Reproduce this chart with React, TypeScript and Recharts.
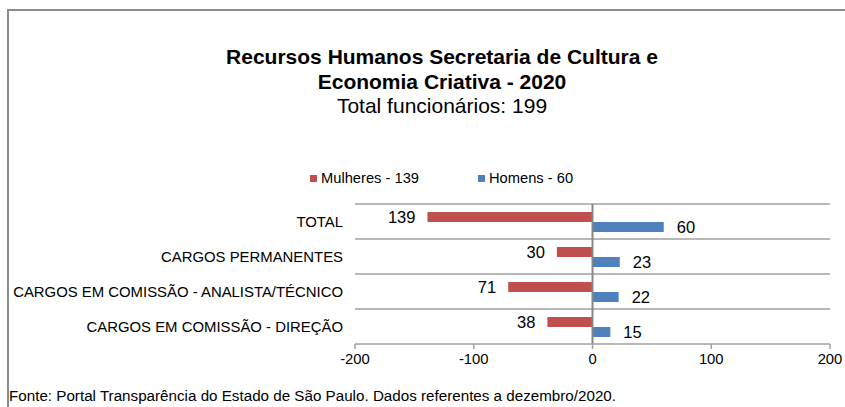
import { Bar, BarChart, CartesianGrid, LabelList, Legend, ReferenceLine, XAxis, YAxis } from "recharts"

const categories = [
  "TOTAL",
  "CARGOS PERMANENTES",
  "CARGOS EM COMISSÃO - ANALISTA/TÉCNICO",
  "CARGOS EM COMISSÃO - DIREÇÃO",
]
const mulheres = [139, 30, 71, 38]
const homens = [60, 23, 22, 15]
const xTicks = [-200, -100, 0, 100, 200]
const seriesNames = ["Mulheres - 139", "Homens - 60"]
const seriesColors = ["#C0504D", "#4F81BD"]

const titleLines = ["Recursos Humanos Secretaria de Cultura e", "Economia Criativa - 2020"]
const subtitle = "Total funcionários: 199"
const footer = "Fonte: Portal Transparência do Estado de São Paulo. Dados referentes a dezembro/2020."

// women drawn to the left of zero
const data = categories.map((name, i) => ({ name, mulheres: -mulheres[i], homens: homens[i] }))

const FONT = "'Liberation Sans', Arial, sans-serif"
const GRID = "#A0A0A0"

function ValueLabel(props: any) {
  const x = Number(props.x)
  const y = Number(props.y)
  const w = Number(props.width)
  const h = Number(props.height)
  const left = props.side === "left"
  const end = left ? Math.min(x, x + w) : Math.max(x, x + w)
  return (
    <text
      x={left ? end - 12 : end + 13}
      y={y + h / 2}
      dy="0.36em"
      textAnchor={left ? "end" : "start"}
      fontSize={16.5}
      fontFamily={FONT}
      fill="#000"
    >
      {Math.abs(props.value)}
    </text>
  )
}

function LegendBox() {
  return (
    <div style={{ display: "flex", fontFamily: FONT, fontSize: 14.7, color: "#000" }}>
      {seriesNames.map((n, i) => (
        <div key={n} style={{ display: "flex", alignItems: "center", marginRight: i === 0 ? 59 : 0 }}>
          <span style={{ width: 7, height: 7, background: seriesColors[i], marginRight: 4, display: "inline-block" }} />
          <span>{n}</span>
        </div>
      ))}
    </div>
  )
}

export default function App() {
  return (
    <div style={{ position: "absolute", left: 0, top: 0, width: 845, height: 407, background: "#fff", fontFamily: FONT, overflow: "hidden" }}>
      <div style={{ position: "absolute", left: 7, top: 9, right: -10, bottom: -10, borderTop: "2px solid #8C8C8C", borderLeft: "2px solid #8C8C8C" }} />
      <div style={{ position: "absolute", left: 442, top: 45, transform: "translateX(-50%)", textAlign: "center", whiteSpace: "nowrap", fontSize: 21, lineHeight: "24.5px", color: "#000" }}>
        {titleLines.map((t) => (
          <div key={t} style={{ fontWeight: "bold" }}>{t}</div>
        ))}
        <div>{subtitle}</div>
      </div>
      <BarChart
        width={845}
        height={407}
        data={data}
        layout="vertical"
        margin={{ top: 204, right: 15, bottom: 33, left: 0 }}
        barSize={10}
        barGap={0}
        style={{ position: "absolute", left: 0, top: 0 }}
      >
        <CartesianGrid
          vertical={false}
          stroke={GRID}
          strokeWidth={1.5}
          horizontalCoordinatesGenerator={({ offset }: any) =>
            categories.map((_, i) => offset.top + (i * offset.height) / categories.length)
          }
        />
        <XAxis
          type="number"
          domain={[-200, 200]}
          ticks={xTicks}
          interval={0}
          height={30}
          stroke={GRID}
          strokeWidth={1.5}
          tickSize={5}
          tickMargin={4}
          tick={{ fill: "#000", fontSize: 14.8, fontFamily: FONT }}
        />
        <YAxis
          type="category"
          dataKey="name"
          width={355}
          axisLine={false}
          tickLine={false}
          tickSize={0}
          tickMargin={12}
          interval={0}
          tick={{ fill: "#000", fontSize: 14.9, fontFamily: FONT }}
        />
        <ReferenceLine x={0} stroke="#868686" strokeWidth={2} />
        <Legend
          layout="horizontal"
          verticalAlign="middle"
          align="center"
          wrapperStyle={{ top: 170, left: 310, width: "auto" }}
          content={() => <LegendBox />}
        />
        <Bar dataKey="mulheres" name={seriesNames[0]} fill={seriesColors[0]} isAnimationActive={false}>
          <LabelList dataKey="mulheres" content={(p: any) => <ValueLabel {...p} side="left" />} />
        </Bar>
        <Bar dataKey="homens" name={seriesNames[1]} fill={seriesColors[1]} isAnimationActive={false}>
          <LabelList dataKey="homens" content={(p: any) => <ValueLabel {...p} side="right" />} />
        </Bar>
      </BarChart>
      <div style={{ position: "absolute", left: 9, top: 388, fontSize: 15.2, lineHeight: "16px", color: "#000", whiteSpace: "nowrap" }}>
        {footer}
      </div>
    </div>
  )
}
